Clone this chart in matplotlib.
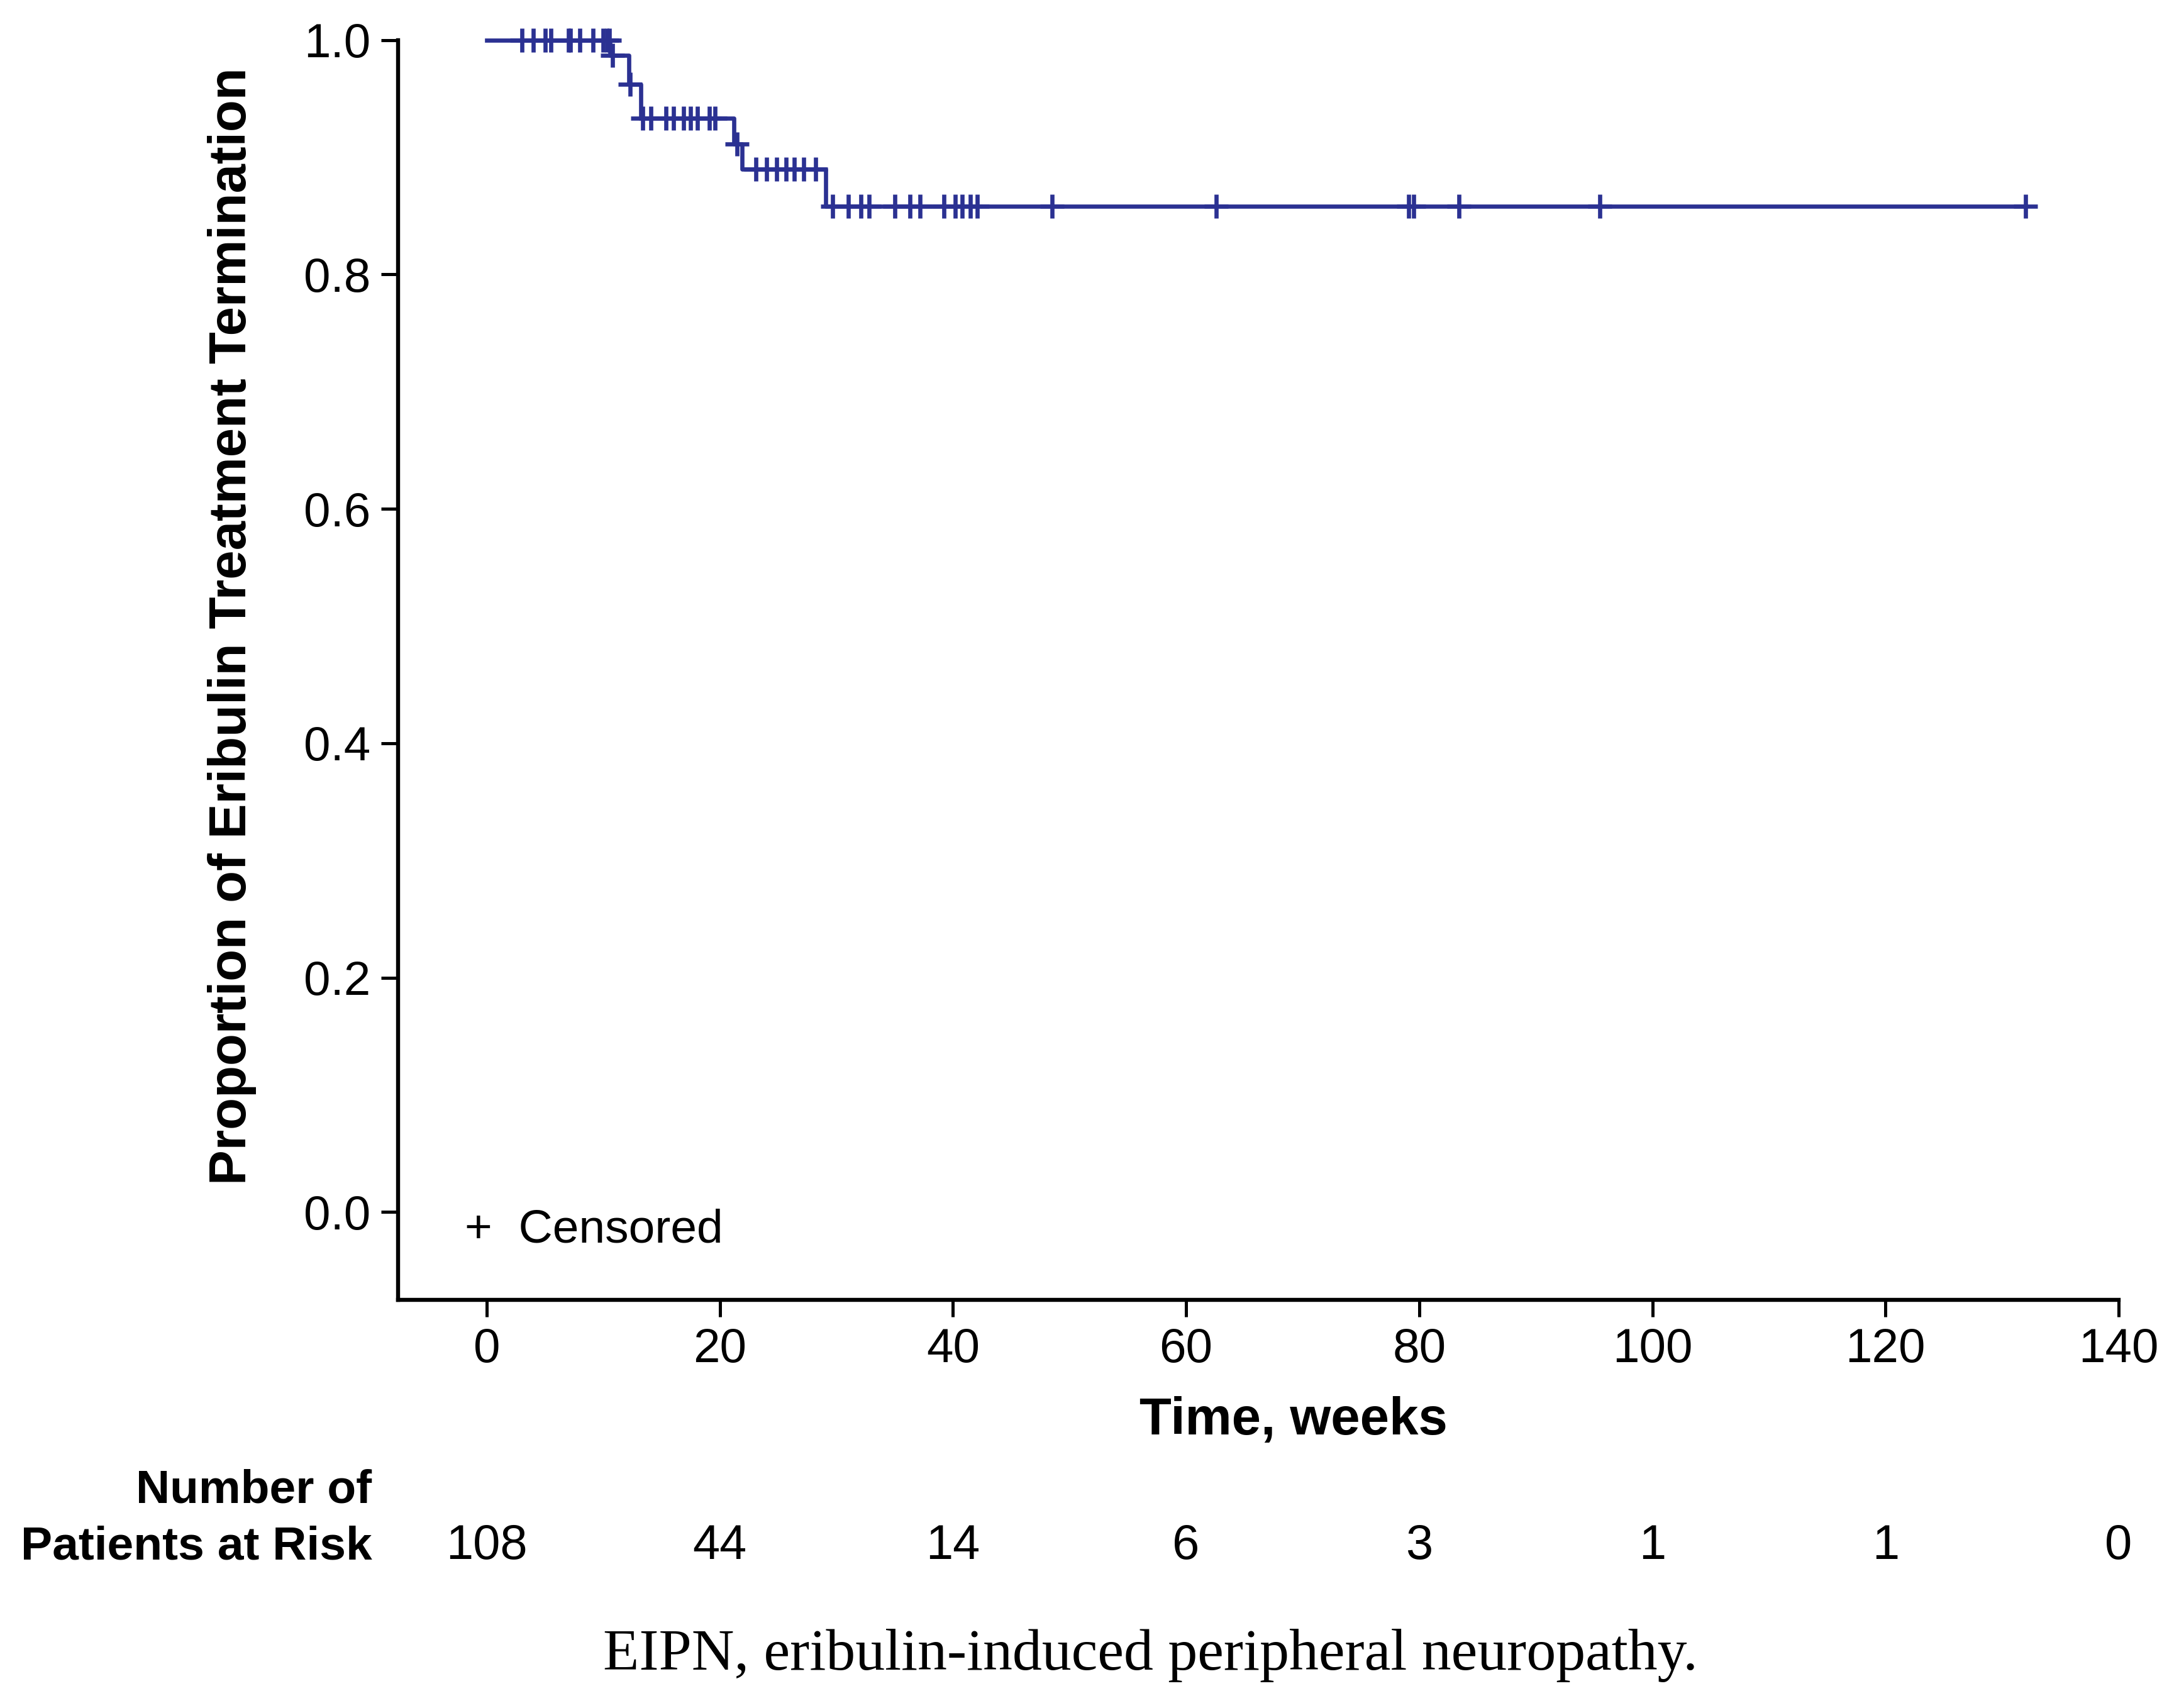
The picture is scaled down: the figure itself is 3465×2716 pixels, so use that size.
import numpy as np
import matplotlib.pyplot as plt
from matplotlib.transforms import blended_transform_factory

# Kaplan-Meier steps (weeks, proportion remaining)
event_times = [10.6, 12.2, 13.2, 21.2, 21.9, 29.1]
event_surv = [0.987, 0.962, 0.933, 0.911, 0.890, 0.858]
last_time = 132.0

# censored observations (weeks)
censor_times = [3.0, 4.0, 5.0, 5.5, 7.0, 7.2, 8.0, 9.1, 10.0, 10.3, 10.5,
                10.8,
                12.3,
                13.4, 14.1, 15.4, 16.0, 16.9, 17.5, 18.1, 19.1, 19.6,
                21.5,
                23.1, 24.0, 24.9, 25.7, 26.4, 27.2, 28.2,
                29.7, 31.0, 32.1, 32.8, 35.0, 36.3, 37.2, 39.2, 40.2, 40.8,
                41.5, 42.1, 48.5, 62.6, 79.1, 79.5, 83.4, 95.5, 132.0]

risk_times = [0, 20, 40, 60, 80, 100, 120, 140]
risk_counts = [108, 44, 14, 6, 3, 1, 1, 0]
y_ticks = [0.0, 0.2, 0.4, 0.6, 0.8, 1.0]

line_color = '#2B3192'

plt.rcParams['font.family'] = ['Liberation Sans', 'DejaVu Sans']

fig = plt.figure(figsize=(34.65, 27.16), dpi=100)
ax = fig.add_axes([0.1827, 0.2389, 0.7896, 0.7377])

step_x = [0] + event_times + [last_time]
step_y = [1.0] + event_surv + [event_surv[-1]]
ax.step(step_x, step_y, where='post', color=line_color, lw=4.8,
        clip_on=False, zorder=3)

levels = np.array([1.0] + event_surv)
idx = np.searchsorted(event_times, censor_times, side='right')
ax.plot(censor_times, levels[idx], ls='none', marker='+', ms=28, mew=4.8,
        color=line_color, clip_on=False, zorder=4)

ax.set_xlim(-7.6, 140)
ax.set_ylim(-0.075, 1.0)
ax.set_xticks(risk_times)
ax.set_yticks(y_ticks)
ax.set_yticklabels(['%.1f' % v for v in y_ticks])
for s in ['top', 'right']:
    ax.spines[s].set_visible(False)
for s in ['left', 'bottom']:
    ax.spines[s].set_linewidth(4.6)
    ax.spines[s].set_capstyle('projecting')
ax.tick_params(length=19.4, width=3.6, labelsize=55, pad=12, colors='black')

ax.text(-0.0965, 0.535, 'Proportion of Eribulin Treatment Termination',
        transform=ax.transAxes, rotation=90, ha='center', va='center',
        fontsize=60, fontweight='bold')

tr = blended_transform_factory(ax.transData, ax.transAxes)
ax.text(69.2, -0.1068, 'Time, weeks', transform=tr, ha='center', va='baseline',
        fontsize=60, fontweight='bold')

ax.text(-1.9, -0.0258, '+  Censored', ha='left', va='baseline', fontsize=54)

# number at risk table
ax.text(-9.84, -0.1607, 'Number of', transform=tr, ha='right', va='baseline',
        fontsize=54, fontweight='bold')
ax.text(-9.84, -0.2056, 'Patients at Risk', transform=tr, ha='right',
        va='baseline', fontsize=54, fontweight='bold')
for t, n in zip(risk_times, risk_counts):
    ax.text(t, -0.2056, str(n), transform=tr, ha='center', va='baseline',
            fontsize=56)

fig.text(0.528, 0.0225, 'EIPN, eribulin-induced peripheral neuropathy.',
         ha='center', va='baseline', fontsize=67.5, family=['Liberation Serif'])

fig.savefig('out.png', dpi=100)
